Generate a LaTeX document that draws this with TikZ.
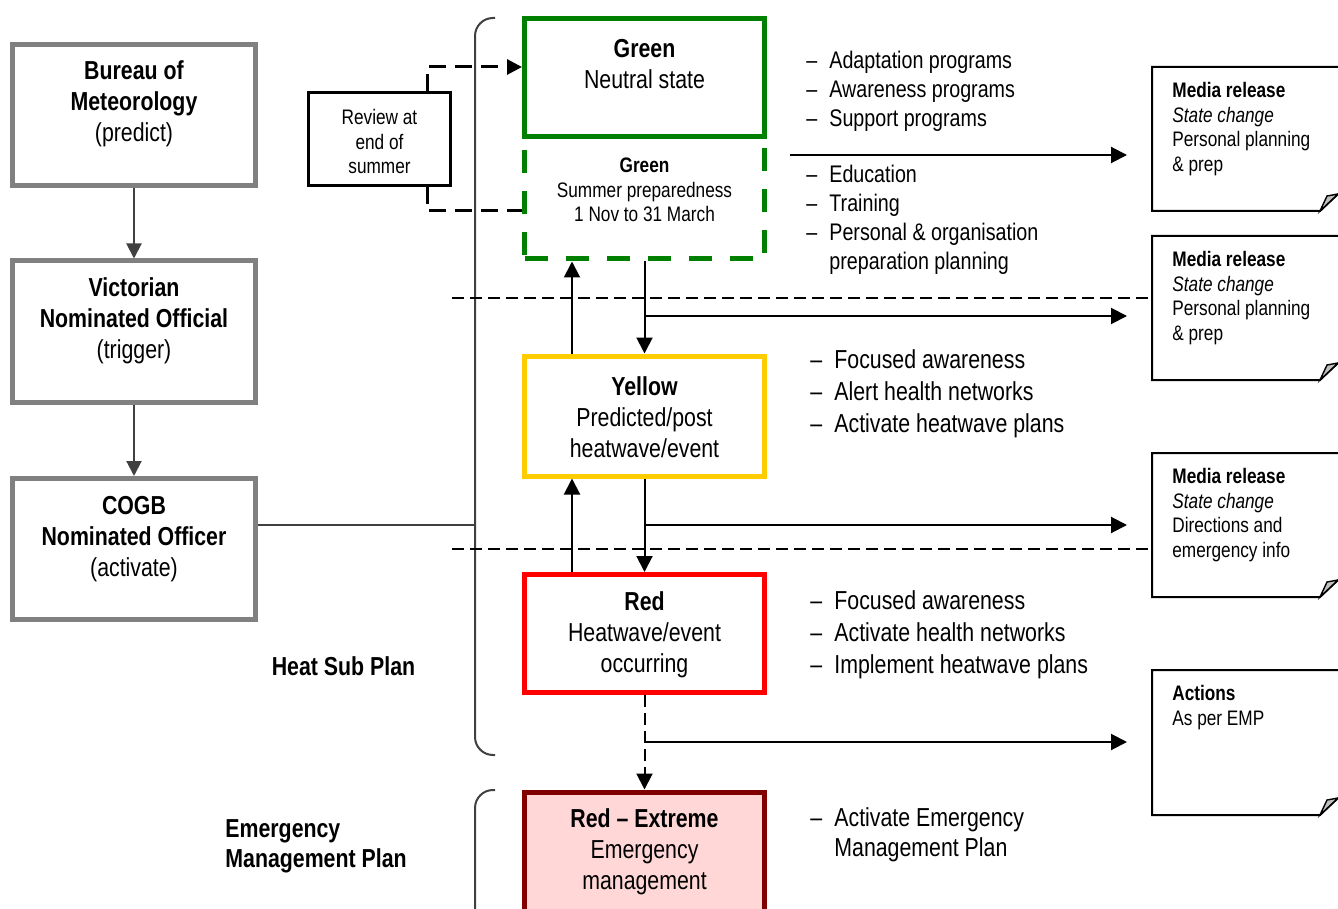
\documentclass[tikz,border=0pt]{standalone}
\usepackage{fontspec}
\setmainfont[FakeStretch=0.82]{Liberation Sans}
\usetikzlibrary{arrows.meta}
\definecolor{gboxc}{HTML}{808080}
\definecolor{dgray}{HTML}{404040}
\definecolor{grnc}{HTML}{008000}
\definecolor{yelc}{HTML}{FFCC00}
\definecolor{redc}{HTML}{FF0000}
\definecolor{dredc}{HTML}{800000}
\definecolor{pinkfill}{HTML}{FFD7D7}
\definecolor{foldc}{HTML}{C0C0C0}
\newcommand\bl[1]{\makebox[11.5pt][l]{–}#1}
\newcommand\blb[1]{\makebox[12pt][l]{–}#1}
\begin{document}
\begin{tikzpicture}[x=0.5pt,y=-0.5pt,
  leftbox/.style={draw=gboxc, line width=2.5pt, minimum width=121.5pt, minimum height=70.5pt, inner sep=0pt},
  bigtxt/.style={font=\fontsize{13}{15.5}\selectfont, align=center, inner sep=0pt, yshift=-1pt},
  smalltxt/.style={font=\fontsize{10.5}{12.3}\selectfont, align=center, inner sep=0pt, yshift=-1pt},
  statebox/.style={line width=2.5pt, minimum width=120pt, inner sep=0pt},
  arr/.style={line width=1pt, -{Triangle[length=8pt,width=8pt]}},
  garr/.style={draw=dgray, line width=1pt, -{Triangle[length=7.5pt,width=7.5pt]}},
  bracket/.style={draw=dgray, line width=1pt, rounded corners=9pt},
  hdash/.style={line width=1pt, dash pattern=on 6pt off 3pt},
  revdash/.style={line width=1.5pt, dash pattern=on 8.5pt off 4.5pt},
  listtxt/.style={font=\fontsize{12}{14.5}\selectfont, align=left, anchor=west, inner sep=0pt, yshift=-1pt},
  listbig/.style={font=\fontsize{13}{16}\selectfont, align=left, anchor=west, inner sep=0pt, yshift=-1pt},
  notetxt/.style={font=\fontsize{10.5}{12.3}\selectfont, align=left, anchor=west, inner sep=0pt, yshift=-1pt},
  noteline/.style={line width=1pt},
  fold/.style={line width=0.7pt, fill=foldc}
]
\useasboundingbox (0,0) rectangle (1338,909);
\clip (0,0) rectangle (1338,909);

% brackets
\draw[bracket] (495,18) -- (475,18) -- (475,755) -- (495,755);
\draw[bracket] (495,790) -- (475,790) -- (475,940);

% left boxes
\node[leftbox] (bom) at (134,115) {};
\node[bigtxt] (bomt) at (134,102) {\textbf{Bureau of}\\\textbf{Meteorology}\\(predict)};
\node[leftbox] (vic) at (134,331.5) {};
\node[bigtxt] (vict) at (134,319) {\textbf{Victorian}\\\textbf{Nominated Official}\\(trigger)};
\node[leftbox] (cogb) at (134,549) {};
\node[bigtxt] (cogbt) at (134,537) {\textbf{COGB}\\\textbf{Nominated Officer}\\(activate)};
\draw[garr] (bom.south) -- (vic.north);
\draw[garr] (vic.south) -- (cogb.north);
\coordinate (brj) at (475,525);
\draw[dgray, line width=1pt] ([yshift=12pt]cogb.east) -- (brj);

% labels
\node[bigtxt] (hsp) at (343.5,664) {\textbf{Heat Sub Plan}};
\node[font=\fontsize{13}{15}\selectfont, align=left, anchor=west, inner sep=0pt, yshift=-1pt] (emp) at (225,844) {\textbf{Emergency}\\\textbf{Management Plan}};

% dashed separators
\draw[hdash] (452,298) -- (1150,298);
\draw[hdash] (452,549) -- (1150,549);

% state boxes
\node[statebox, draw=grnc, dash pattern=on 11.5pt off 9pt, minimum height=61pt] (gd) at (644.5,198) {};
\node[statebox, draw=grnc, minimum height=59pt] (gs) at (644.5,78) {};
\node[bigtxt] (gst) at (644.5,62.5) {\textbf{Green}\\Neutral state};
\node[smalltxt] (gdt) at (644.5,188) {\textbf{Green}\\Summer preparedness\\1 Nov to 31 March};
\node[statebox, draw=yelc, minimum height=60pt] (yel) at (644.5,416) {};
\node[bigtxt] (yelt) at (644.5,415.5) {\textbf{Yellow}\\Predicted/post\\heatwave/event};
\node[statebox, draw=redc, minimum height=59pt] (red) at (644.5,633.5) {};
\node[bigtxt] (redt) at (644.5,633) {\textbf{Red}\\Heatwave/event\\occurring};
\node[statebox, draw=dredc, fill=pinkfill, minimum height=60pt] (ext) at (644.5,852) {};
\node[bigtxt] (extt) at (644.5,849.5) {\textbf{Red – Extreme}\\Emergency\\management};

% review box
\node[draw, line width=1.5pt, minimum width=71pt, minimum height=46.5pt, inner sep=0pt] (rev) at (379.5,139) {};
\node[smalltxt] (revt) at (379.5,139.5) {Review at\\end of\\summer};
\draw[revdash, -{Triangle[length=7.5pt,width=7.5pt]}] ([xshift=23.75pt]rev.north) |- ([yshift=5.5pt]gs.west);
\draw[revdash] ([xshift=23.75pt]rev.south) |- ([yshift=-6.5pt]gd.west);

% vertical arrows
\draw[arr] (gd.south) -- (yel.north);
\draw[arr] ([xshift=-36.25pt]yel.north) -- ([xshift=-36.25pt]gd.south);
\draw[arr] (yel.south) -- (red.north);
\draw[arr] ([xshift=-36.25pt]red.north) -- ([xshift=-36.25pt]yel.south);
\draw[line width=1pt, dash pattern=on 6pt off 3pt, -{Triangle[length=8pt,width=8pt]}] (red.south) -- (ext.north);

% lists
\node[listtxt] (l1) at (806,89) {\bl{Adaptation programs}\\\bl{Awareness programs}\\\bl{Support programs}};
\node[listtxt] (l2) at (806,218) {\bl{Education}\\\bl{Training}\\\bl{Personal \& organisation}\\\hspace*{11.5pt}preparation planning};
\node[listbig] (l3) at (810,391.5) {\blb{Focused awareness}\\\blb{Alert health networks}\\\blb{Activate heatwave plans}};
\node[listbig] (l4) at (810,633) {\blb{Focused awareness}\\\blb{Activate health networks}\\\blb{Implement heatwave plans}};
\node[font=\fontsize{13}{15}\selectfont, align=left, anchor=west, inner sep=0pt, yshift=-1pt] (l5) at (810,833) {\blb{Activate Emergency}\\\hspace*{12pt}Management Plan};

% notes
\foreach \t/\b in {67/211, 236/380, 453/597, 670/815}{
  \draw[noteline] (1345,\t) -- (1152,\t) -- (1152,\b) -- (1320,\b) -- (1338,\b-17);
  \draw[fold] (1320,\b) -- (1327,\b-15) -- (1338,\b-17) -- cycle;
}
\node[notetxt] (n1) at (1172,127) {\textbf{Media release}\\\textit{State change}\\Personal planning\\\& prep};
\node[notetxt] (n2) at (1172,296) {\textbf{Media release}\\\textit{State change}\\Personal planning\\\& prep};
\node[notetxt] (n3) at (1172,513) {\textbf{Media release}\\\textit{State change}\\Directions and\\emergency info};
\node[notetxt] (n4) at (1172,705.5) {\textbf{Actions}\\As per EMP};

% horizontal arrows
\coordinate (s1) at (790,155);
\coordinate (j2) at (645,316);
\coordinate (j3) at (645,525);
\coordinate (j4) at (645,742);
\draw[arr, shorten >=22.5pt] (s1) -- (s1 -| n1.west);
\draw[arr, shorten >=22.5pt] (j2) -- (j2 -| n2.west);
\draw[arr, shorten >=22.5pt] (j3) -- (j3 -| n3.west);
\draw[arr, shorten >=22.5pt] (j4) -- (j4 -| n4.west);
\end{tikzpicture}
\end{document}
